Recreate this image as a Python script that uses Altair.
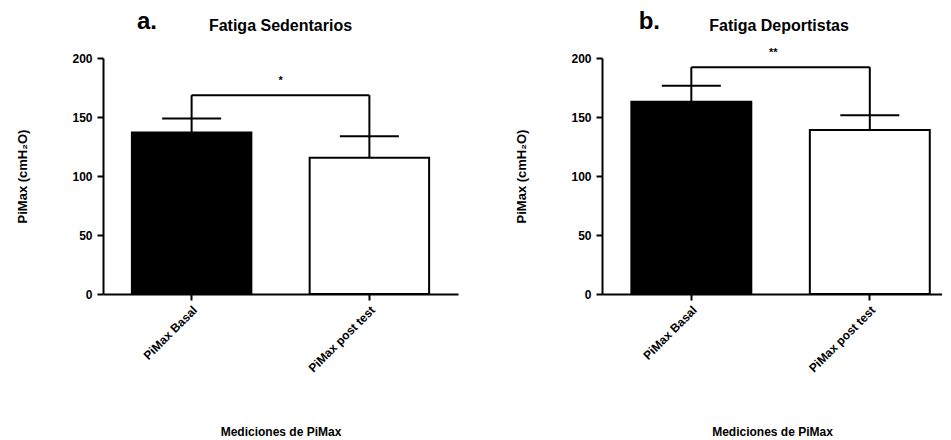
import altair as alt
import pandas as pd

categories = ["PiMax Basal", "PiMax post test"]
bar_fills = ["black", "white"]

titles = ["Fatiga Sedentarios", "Fatiga Deportistas"]
letters = ["a.", "b."]

sed_mean = [136.8, 115.5]
sed_upper = [148.7, 133.6]
sed_bracket = 168.5
sed_sig = "*"

dep_mean = [162.9, 139.0]
dep_upper = [176.4, 151.4]
dep_bracket = 192.2
dep_sig = "**"

y_ticks = [0, 50, 100, 150, 200]

FONT = "Liberation Sans"


def panel(letter, title, means, uppers, bracket, sig, width, pad_outer, align,
          title_dx, letter_x, sig_dx):
    df = pd.DataFrame({"cat": categories, "mean": means, "upper": uppers,
                       "bracket": [bracket] * len(categories)})
    sig_df = pd.DataFrame({"cat": [categories[0]], "bracket": [bracket], "sig": [sig]})

    xscale = alt.Scale(paddingInner=0.328, paddingOuter=pad_outer, align=align)
    x = alt.X("cat:N", sort=categories, scale=xscale, title="Mediciones de PiMax",
              axis=alt.Axis(labelAngle=-45, labelAlign="right", labelBaseline="top",
                            labelPadding=4, tickSize=6, tickWidth=2, tickColor="black",
                            domainColor="black", domainWidth=2, labelColor="black",
                            labelFont=FONT, labelFontSize=12, labelFontWeight="bold",
                            titleFont=FONT, titleFontSize=12, titleFontWeight="bold",
                            titleColor="black", titleY=132, titleBaseline="top"))
    y = alt.Y("mean:Q", scale=alt.Scale(domain=[0, 200], nice=False),
              title="PiMax (cmH₂O)",
              axis=alt.Axis(values=y_ticks, grid=False, tickSize=6, tickWidth=2,
                            tickColor="black", domainColor="black", domainWidth=2,
                            labelColor="black", labelFont=FONT, labelFontSize=12,
                            labelFontWeight="bold", labelPadding=5,
                            titleFont=FONT, titleFontSize=13, titleFontWeight="bold",
                            titleColor="black", titleX=-81, titleBaseline="middle"))

    base = alt.Chart(df)
    bars = base.mark_bar(stroke="black", strokeWidth=2).encode(
        x=x, y=y,
        fill=alt.Fill("cat:N", scale=alt.Scale(domain=categories, range=bar_fills), legend=None),
    )
    stems = base.mark_rule(color="black", strokeWidth=2).encode(
        x=alt.X("cat:N", sort=categories), y=alt.Y("mean:Q"), y2="bracket:Q")
    caps = base.mark_tick(color="black", thickness=2, size=59, opacity=1).encode(
        x=alt.X("cat:N", sort=categories), y=alt.Y("upper:Q"))
    link = base.mark_line(color="black", strokeWidth=2).encode(
        x=alt.X("cat:N", sort=categories), y=alt.Y("bracket:Q"))
    star = alt.Chart(sig_df).mark_text(
        dx=sig_dx, dy=-11, baseline="alphabetic", font=FONT, fontSize=11,
        fontWeight="bold", color="black").encode(
        x=alt.X("cat:N", sort=categories), y=alt.Y("bracket:Q"), text="sig:N")
    lab = alt.Chart(sig_df).mark_text(
        align="right", baseline="alphabetic", font=FONT, fontSize=24,
        fontWeight="bold", color="black").encode(
        x=alt.value(letter_x), y=alt.value(-29), text=alt.value(letter))

    return alt.layer(bars, stems, caps, link, star, lab).properties(
        width=width, height=236,
        title=alt.TitleParams(title, font=FONT, fontSize=16, fontWeight="bold",
                              color="black", anchor="middle", dx=title_dx, offset=-24),
    )


pa = panel(letters[0], titles[0], sed_mean, sed_upper, sed_bracket, sed_sig,
           355, 0.1625, 0.5, 0, 54, 89)
pb = panel(letters[1], titles[1], dep_mean, dep_upper, dep_bracket, dep_sig,
           340, 0.1165, 0.706, 7, 58, 82)

chart = alt.hconcat(pa, pb, spacing=56).properties(
    padding={"left": 7, "top": 2, "right": 0, "bottom": 0}
).configure_view(stroke=None)

chart.save("out.html", embed_options={"renderer": "svg", "actions": False})
